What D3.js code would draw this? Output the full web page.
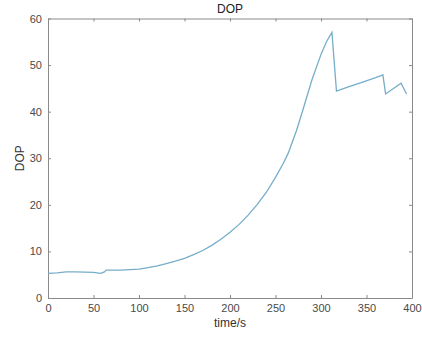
<!DOCTYPE html>
<html>
<head>
<meta charset="utf-8">
<script src="https://d3js.org/d3.v7.min.js"></script>
<style>
  body { margin: 0; background: #fff; }
  #chart { display: block; }
  .axis path, .axis line { stroke: #8a8a8a; }
  .axis text { fill: #4a4a4a; font-family: "Liberation Sans", Arial, sans-serif; font-size: 11px; }
  .line { fill: none; stroke: #76adc9; stroke-width: 1.3px; }
</style>
</head>
<body>
<svg id="chart"></svg>
<script>
// time (s) and DOP values
var times = [0, 10, 20, 30, 40, 50, 58, 62, 64, 70, 80, 90, 100, 110, 120, 130, 140, 150,
             160, 170, 180, 190, 200, 210, 220, 230, 240, 250, 258, 264, 270, 273, 280,
             290, 300, 306, 312, 317, 330, 345, 360, 368, 371, 388, 394];
var dop = [5.3, 5.4, 5.6, 5.6, 5.55, 5.5, 5.3, 5.6, 6.0, 6.0, 6.0, 6.1, 6.2, 6.5, 6.9, 7.4, 7.9, 8.5,
           9.3, 10.2, 11.3, 12.6, 14.1, 15.8, 17.8, 20.1, 22.7, 25.9, 28.7, 31.1, 34.3, 35.9, 40.3,
           46.8, 52.3, 55.0, 57.0, 44.4, 45.3, 46.3, 47.3, 47.9, 43.8, 46.1, 43.8];
var xTicks = [0, 50, 100, 150, 200, 250, 300, 350, 400];
var yTicks = [0, 10, 20, 30, 40, 50, 60];

var margin = {top: 18.5, right: 10, bottom: 41, left: 48},
    width = 422 - margin.left - margin.right,
    height = 339 - margin.top - margin.bottom;

var svg = d3.select("#chart")
    .attr("width", width + margin.left + margin.right)
    .attr("height", height + margin.top + margin.bottom);

var g = svg.append("g")
    .attr("transform", "translate(" + margin.left + "," + margin.top + ")");

var x = d3.scaleLinear().domain([0, 400]).range([0, width]),
    y = d3.scaleLinear().domain([0, 60]).range([height, 0]);

var data = times.map((t, i) => ({t: t, v: dop[i]}));

// axes, ticks point inward like matlab
g.append("g")
    .attr("class", "axis")
    .attr("transform", "translate(0," + height + ")")
    .call(d3.axisBottom(x).tickValues(xTicks).tickSizeInner(-3).tickSizeOuter(0).tickPadding(6));
g.append("g")
    .attr("class", "axis")
    .call(d3.axisTop(x).tickValues(xTicks).tickSizeInner(-3).tickSizeOuter(0).tickFormat(""));
g.append("g")
    .attr("class", "axis")
    .call(d3.axisLeft(y).tickValues(yTicks).tickSizeInner(-3).tickSizeOuter(0).tickPadding(6));
g.append("g")
    .attr("class", "axis")
    .attr("transform", "translate(" + width + ",0)")
    .call(d3.axisRight(y).tickValues(yTicks).tickSizeInner(-3).tickSizeOuter(0).tickFormat(""));

g.append("path")
    .datum(data)
    .attr("class", "line")
    .attr("d", d3.line().x(d => x(d.t)).y(d => y(d.v)));

// title and labels
svg.append("text")
    .attr("x", margin.left + width / 2)
    .attr("y", 13)
    .attr("text-anchor", "middle")
    .attr("font-family", "Liberation Sans, Arial, sans-serif")
    .attr("font-size", 12)
    .attr("fill", "#222")
    .text("DOP");

svg.append("text")
    .attr("x", margin.left + width / 2)
    .attr("y", 327)
    .attr("text-anchor", "middle")
    .attr("font-family", "Liberation Sans, Arial, sans-serif")
    .attr("font-size", 12)
    .attr("fill", "#333")
    .text("time/s");

svg.append("text")
    .attr("transform", "translate(24," + (margin.top + height / 2) + ") rotate(-90)")
    .attr("text-anchor", "middle")
    .attr("font-family", "Liberation Sans, Arial, sans-serif")
    .attr("font-size", 12)
    .attr("fill", "#333")
    .text("DOP");
</script>
</body>
</html>
